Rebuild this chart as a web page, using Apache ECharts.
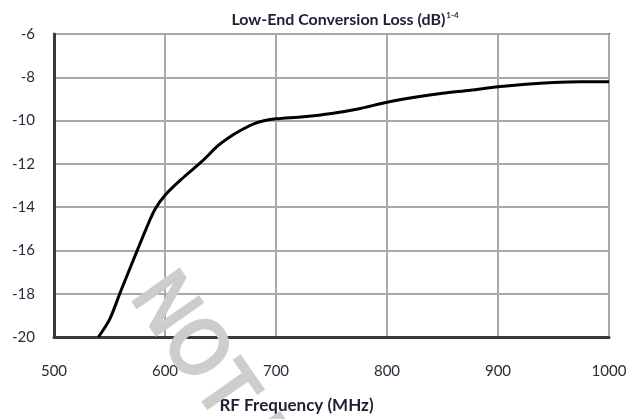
<!DOCTYPE html>
<html>
<head>
<meta charset="utf-8">
<script src="https://cdn.jsdelivr.net/npm/echarts@6/dist/echarts.min.js"></script>
<style>html,body{margin:0;padding:0;background:#fff;}#c{width:631px;height:419px;}</style>
</head>
<body>
<div id="c"></div>
<script>
var freqMHz = [540, 550, 560, 575, 583, 591, 600, 615, 633, 648, 660, 670, 680, 690, 700, 725, 750, 775, 800, 825, 850, 875, 900, 925, 950, 975, 1000];
var lossDb = [-20, -19.2, -17.9, -16.0, -15.0, -14.1, -13.45, -12.7, -11.9, -11.15, -10.7, -10.4, -10.15, -10.0, -9.92, -9.82, -9.67, -9.45, -9.15, -8.92, -8.74, -8.6, -8.44, -8.32, -8.24, -8.21, -8.21];
var xTicks = [500, 600, 700, 800, 900, 1000];
var yTicks = [-20, -18, -16, -14, -12, -10, -8, -6];

var font = 'Lato';
var chart = echarts.init(document.getElementById('c'));
chart.setOption({
  animation: false,
  title: {
    text: '{t|Low-End Conversion Loss (dB)}{s|1-4}',
    left: 340, top: 6, textAlign: 'center',
    textStyle: {
      rich: {
        t: {fontFamily: font, fontWeight: 'bold', fontSize: 16, color: '#1c2035'},
        s: {fontFamily: font, fontWeight: 'bold', fontSize: 8, color: '#1c2035', verticalAlign: 'top', padding: [0,0,9,1]}
      }
    }
  },
  grid: {left: 54, right: 22, top: 34, bottom: 78, show: true, borderColor: '#3a3a3a', borderWidth: 2},
  xAxis: {
    type: 'value', min: 500, max: 1000, interval: 100,
    name: 'RF Frequency (MHz)', nameLocation: 'middle', nameGap: 60,
    nameTextStyle: {fontFamily: font, fontWeight: 'bold', fontSize: 17, color: '#1c2035', padding: [0, 70, 0, 0]},
    axisLine: {show: true, lineStyle: {color: '#3a3a3a', width: 3}},
    axisTick: {show: false},
    axisLabel: {fontFamily: font, fontSize: 15, color: '#2a2a3a', margin: 27,
      formatter: function (v) { return xTicks.indexOf(v) >= 0 ? String(v) : ''; }},
    splitLine: {show: true, lineStyle: {color: '#a8a8a8', width: 2}}
  },
  yAxis: {
    type: 'value', min: -20, max: -6, interval: 2,
    axisLine: {show: true, lineStyle: {color: '#3a3a3a', width: 3}},
    axisTick: {show: false},
    axisLabel: {fontFamily: font, fontSize: 15, color: '#2a2a3a', margin: 19,
      formatter: function (v) { return yTicks.indexOf(v) >= 0 ? String(v) : ''; }},
    splitLine: {show: true, lineStyle: {color: '#a8a8a8', width: 2}}
  },
  series: [{
    type: 'line', smooth: 0.3, symbol: 'none',
    data: freqMHz.map(function (f, i) { return [f, lossDb[i]]; }),
    lineStyle: {color: '#000', width: 3}
  }],
  graphic: [{
    type: 'text', x: 148, y: 284, rotation: -55 * Math.PI / 180, scaleX: 0.85, z: 100,
    style: {text: 'NOT RECOMMENDED', fontFamily: 'Liberation Sans', fontWeight: 'bold', fontSize: 86, fill: '#cdcdcd', textVerticalAlign: 'middle', textAlign: 'left'}
  }]
});
</script>
</body>
</html>
